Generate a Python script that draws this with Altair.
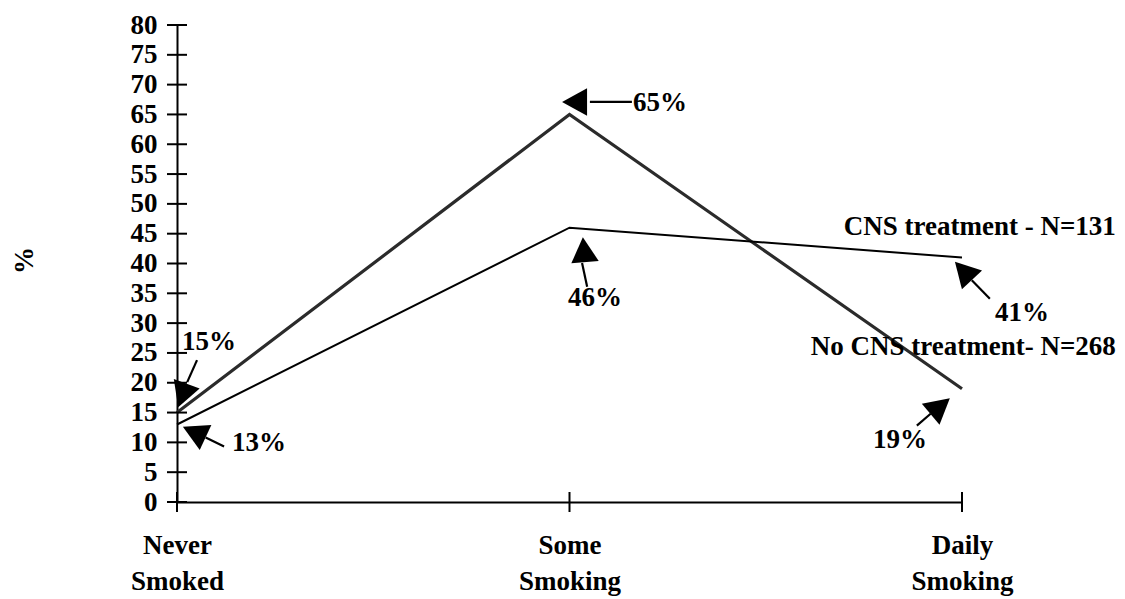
import altair as alt
import pandas as pd

# ---- data ----
categories = [["Never", "Smoked"], ["Some", "Smoking"], ["Daily", "Smoking"]]
cat_pos = [0, 1, 2]
series_names = ["No CNS treatment- N=268", "CNS treatment - N=131"]
no_cns = [15, 65, 19]
cns = [13, 46, 41]
y_ticks = list(range(0, 85, 5))

# annotation arrows (data coordinates): tip, angle, shaft start/end
arrow_tip_x = [0.981, 1.034, 0.003, 0.015, 1.982, 1.969]
arrow_tip_y = [67.1, 44.4, 15.9, 12.6, 40.3, 17.4]
arrow_angle = [270, 355, 200, 295, 317, 50]
shaft_x1 = [1.052, 1.032, 0.051, 0.073, 2.025, 1.885]
shaft_y1 = [67.1, 40.1, 23.8, 10.8, 37.2, 12.8]
shaft_x2 = [1.159, 1.045, 0.026, 0.120, 2.071, 1.920]
shaft_y2 = [67.1, 36.1, 20.1, 9.3, 34.1, 14.8]

left_labels = ["65%", "15%", "13%"]
left_x = [1.162, 0.013, 0.140]
left_y = [66.9, 26.8, 9.9]
center_labels = ["46%", "41%", "19%"]
center_x = [1.065, 2.153, 1.842]
center_y = [34.2, 31.7, 10.4]
series_label_x = [2.392, 2.392]
series_label_y = [26.0, 46.1]

FONT = "Liberation Serif"
FS = 27

XD = [0, 2]
YD = [0, 80]

label_expr = " : ".join(
    f"datum.value == {p} ? ['{c[0]}', '{c[1]}']" for p, c in zip(cat_pos, categories)
) + " : ''"

x_axis = alt.Axis(
    values=cat_pos, labelExpr=label_expr, grid=False, ticks=False, domain=True,
    domainColor="black", domainWidth=2, labelFont=FONT, labelFontSize=FS,
    labelFontWeight="bold", labelColor="black", labelPadding=30, labelLineHeight=36,
    labelBaseline="top", labelFlush=False, labelAngle=0, title=None,
)
y_axis = alt.Axis(
    values=y_ticks, grid=False, ticks=False, domain=True, domainColor="black",
    domainWidth=2, labelFont=FONT, labelFontSize=FS, labelFontWeight="bold",
    labelColor="black", labelPadding=20, title="%", titleFont=FONT,
    titleFontSize=FS, titleFontWeight="bold", titleColor="black", titleAngle=270,
    titleX=-153, titleY=235, titleAlign="center", titleBaseline="middle",
)


def X(field):
    return alt.X(field, type="quantitative", scale=alt.Scale(domain=XD, nice=False, zero=False), axis=x_axis)


def Y(field):
    return alt.Y(field, type="quantitative", scale=alt.Scale(domain=YD, nice=False, zero=False), axis=y_axis)


rows = []
for i, p in enumerate(cat_pos):
    rows.append({"series": series_names[0], "x": p, "v": no_cns[i]})
    rows.append({"series": series_names[1], "x": p, "v": cns[i]})
lines_df = pd.DataFrame(rows)

lines = alt.Chart(lines_df).mark_line().encode(
    x=X("x"),
    y=Y("v"),
    color=alt.Color("series:N", scale=alt.Scale(domain=series_names, range=["#2b2b2b", "#000000"]), legend=None),
    strokeWidth=alt.StrokeWidth("series:N", scale=alt.Scale(domain=series_names, range=[3.2, 2]), legend=None),
)

ytick_df = pd.DataFrame({"x": [0] * len(y_ticks), "v": y_ticks})
yticks = alt.Chart(ytick_df).mark_tick(orient="horizontal", size=20, thickness=2, color="black", opacity=1).encode(
    x=X("x"), y=Y("v")
)
xtick_df = pd.DataFrame({"x": cat_pos, "v": [0] * len(cat_pos)})
xticks = alt.Chart(xtick_df).mark_tick(orient="vertical", size=20, thickness=2, color="black", opacity=1).encode(
    x=X("x"), y=Y("v")
)

arrow_df = pd.DataFrame({"x": arrow_tip_x, "v": arrow_tip_y, "angle": arrow_angle})
heads = alt.Chart(arrow_df).mark_point(
    shape="M0,0L0.55,1L-0.55,1Z", filled=True, color="black", size=2500, opacity=1
).encode(x=X("x"), y=Y("v"), angle=alt.Angle("angle:Q", scale=None))

shaft_df = pd.DataFrame({"x": shaft_x1, "v": shaft_y1, "x2": shaft_x2, "v2": shaft_y2})
shafts = alt.Chart(shaft_df).mark_rule(color="black", strokeWidth=2.2).encode(
    x=X("x"), y=Y("v"), x2="x2", y2="v2"
)

text_kw = dict(font=FONT, fontSize=FS, fontWeight="bold", color="black", baseline="middle")
left_df = pd.DataFrame({"x": left_x, "v": left_y, "t": left_labels})
left_t = alt.Chart(left_df).mark_text(align="left", **text_kw).encode(x=X("x"), y=Y("v"), text="t:N")
center_df = pd.DataFrame({"x": center_x, "v": center_y, "t": center_labels})
center_t = alt.Chart(center_df).mark_text(align="center", **text_kw).encode(x=X("x"), y=Y("v"), text="t:N")
series_df = pd.DataFrame({"x": series_label_x, "v": series_label_y, "t": series_names})
series_t = alt.Chart(series_df).mark_text(align="right", **text_kw).encode(x=X("x"), y=Y("v"), text="t:N")

chart = alt.layer(lines, yticks, xticks, shafts, heads, left_t, center_t, series_t).properties(
    width=785, height=477,
    autosize=alt.AutoSizeParams(type="none"),
    padding={"left": 169, "top": 17, "right": 155, "bottom": 97},
    background="white",
).configure_view(stroke=None)

chart.save("out.html", embed_options={"renderer": "svg", "actions": False})
